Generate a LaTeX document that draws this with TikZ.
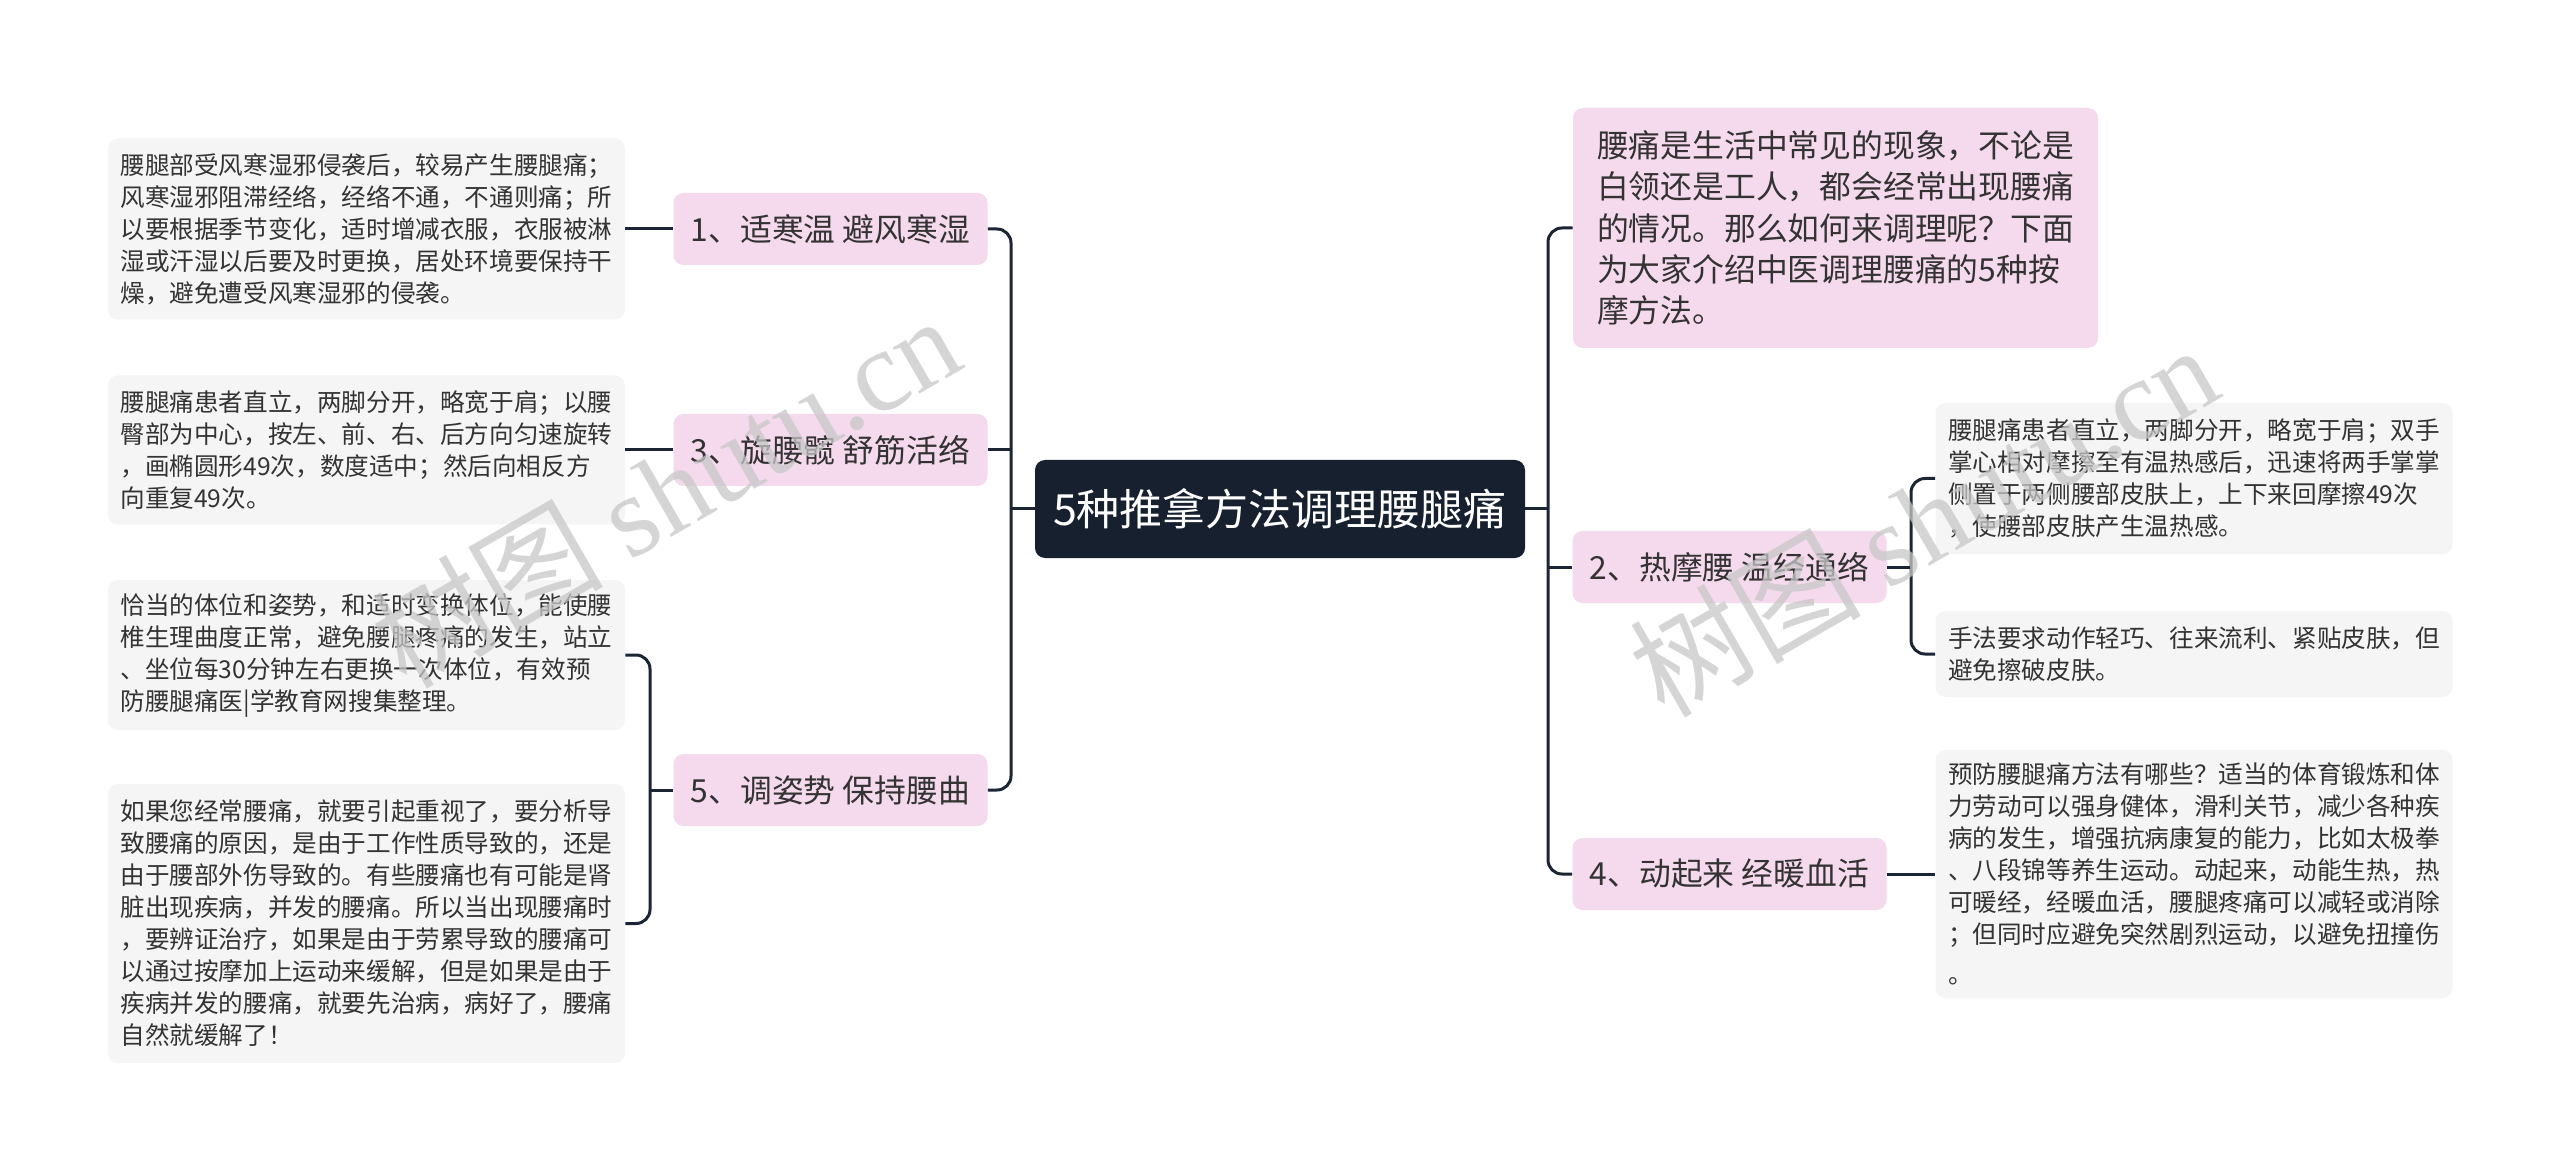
\documentclass[tikz,border=0pt]{standalone}
\usepackage{fontspec}
\setmainfont{Noto Sans CJK SC}
\newfontfamily\wmserif{Liberation Serif}
\definecolor{conncol}{HTML}{1B2535}
\definecolor{rootcol}{HTML}{17202F}
\definecolor{pinkcol}{HTML}{F5DAEE}
\definecolor{leafcol}{HTML}{F5F5F5}
\definecolor{txtcol}{HTML}{333333}
\tikzset{
 conn/.style={draw=conncol, line width=1.5pt, rounded corners=7pt},
 root/.style={fill=rootcol, rounded corners=5pt, text=white, font=\fontsize{21.5}{26}\selectfont, minimum width=245pt, minimum height=49pt, inner sep=0pt},
 topic/.style={fill=pinkcol, rounded corners=5pt, text=txtcol, font=\fontsize{15.9}{19}\selectfont, minimum width=157pt, minimum height=36pt, inner sep=0pt},
 intro/.style={fill=pinkcol, rounded corners=5pt, text=txtcol, font=\fontsize{15.9}{20.7}\selectfont, align=left, minimum width=262.5pt, minimum height=120pt, inner sep=0pt},
 leaf/.style={fill=leafcol, rounded corners=5pt, text=txtcol, font=\fontsize{12.3}{16}\selectfont, align=left, minimum width=258.5pt, inner sep=0pt},
 wm/.style={text=black!22, opacity=0.75, rotate=30, font=\fontsize{58}{60}\selectfont}
}
\begin{document}
\begin{tikzpicture}[x=0.5pt,y=-0.5pt]
\useasboundingbox[fill=white] (0,0) rectangle (2560,1171);
% root
\node[root] (c) at (1280,509) {5种推拿方法调理腰腿痛};
% left topics
\node[topic] (n1) at (830.5,229) {1、适寒温 避风寒湿};
\node[topic] (n3) at (830.5,450) {3、旋腰髋 舒筋活络};
\node[topic] (n5) at (830.5,790) {5、调姿势 保持腰曲};
% right topics
\node[intro] (in) at (1835.5,228) {腰痛是生活中常见的现象，不论是\\白领还是工人，都会经常出现腰痛\\的情况。那么如何来调理呢？下面\\为大家介绍中医调理腰痛的5种按\\摩方法。};
\node[topic] (n2) at (1729.5,567) {2、热摩腰 温经通络};
\node[topic] (n4) at (1729.5,874) {4、动起来 经暖血活};
% left leaves
\node[leaf, minimum height=90.5pt] (l1) at (366.5,229) {腰腿部受风寒湿邪侵袭后，较易产生腰腿痛；\\风寒湿邪阻滞经络，经络不通，不通则痛；所\\以要根据季节变化，适时增减衣服，衣服被淋\\湿或汗湿以后要及时更换，居处环境要保持干\\燥，避免遭受风寒湿邪的侵袭。};
\node[leaf, minimum height=74.5pt] (l3) at (366.5,450) {腰腿痛患者直立，两脚分开，略宽于肩；以腰\\臀部为中心，按左、前、右、后方向匀速旋转\\，画椭圆形49次，数度适中；然后向相反方\\向重复49次。};
\node[leaf, minimum height=75pt] (l5a) at (366.5,655) {恰当的体位和姿势，和适时变换体位，能使腰\\椎生理曲度正常，避免腰腿疼痛的发生，站立\\、坐位每30分钟左右更换一次体位，有效预\\防腰腿痛医|学教育网搜集整理。};
\node[leaf, minimum height=139.5pt] (l5b) at (366.5,923.5) {如果您经常腰痛，就要引起重视了，要分析导\\致腰痛的原因，是由于工作性质导致的，还是\\由于腰部外伤导致的。有些腰痛也有可能是肾\\脏出现疾病，并发的腰痛。所以当出现腰痛时\\，要辨证治疗，如果是由于劳累导致的腰痛可\\以通过按摩加上运动来缓解，但是如果是由于\\疾病并发的腰痛，就要先治病，病好了，腰痛\\自然就缓解了！};
% right leaves
\node[leaf, minimum height=75.5pt] (l2a) at (2194,478.5) {腰腿痛患者直立，两脚分开，略宽于肩；双手\\掌心相对摩擦至有温热感后，迅速将两手掌掌\\侧置于两侧腰部皮肤上，上下来回摩擦49次\\，使腰部皮肤产生温热感。};
\node[leaf, minimum height=43pt] (l2b) at (2194,654) {手法要求动作轻巧、往来流利、紧贴皮肤，但\\避免擦破皮肤。};
\node[leaf, minimum height=124pt] (l4) at (2194,874) {预防腰腿痛方法有哪些？适当的体育锻炼和体\\力劳动可以强身健体，滑利关节，减少各种疾\\病的发生，增强抗病康复的能力，比如太极拳\\、八段锦等养生运动。动起来，动能生热，热\\可暖经，经暖血活，腰腿疼痛可以减轻或消除\\；但同时应避免突然剧烈运动，以避免扭撞伤\\[4pt]。};
% spines
\coordinate (sL) at (1011,0);
\coordinate (sR) at (1548,0);
\coordinate (sL2) at (650,0);
\coordinate (sR2) at (1911,0);
% left connectors
\draw[conn] (n1.east) -- (n1.east -| sL) -- (n5.east -| sL) -- (n5.east);
\draw[conn] (c.west) -- (c.west -| sL);
\draw[conn] (n3.east) -- (n3.east -| sL);
\draw[conn] (n1.west) -- (l1.east);
\draw[conn] (n3.west) -- (l3.east);
\draw[conn] (l5a.east) -- (l5a.east -| sL2) -- (l5b.east -| sL2) -- (l5b.east);
\draw[conn] (n5.west) -- (n5.west -| sL2);
% right connectors
\draw[conn] (in.west) -- (in.west -| sR) -- (n4.west -| sR) -- (n4.west);
\draw[conn] (c.east) -- (c.east -| sR);
\draw[conn] (n2.west) -- (n2.west -| sR);
\draw[conn] (l2a.west) -- (l2a.west -| sR2) -- (l2b.west -| sR2) -- (l2b.west);
\draw[conn] (n2.east) -- (n2.east -| sR2);
\draw[conn] (n4.east) -- (l4.west);
% watermarks
\node[wm] (w1) at (665,490) {树图 {\wmserif shutu.cn}};
\node[wm] (w2) at (1923,519) {树图 {\wmserif shutu.cn}};
\end{tikzpicture}
\end{document}
